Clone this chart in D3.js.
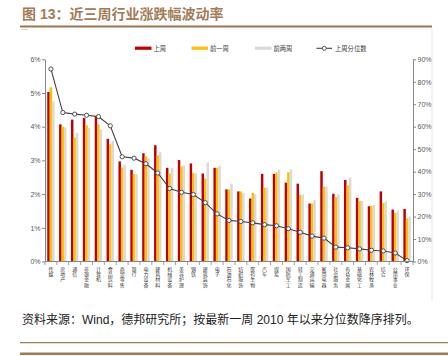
<!DOCTYPE html>
<html><head><meta charset="utf-8">
<script src="https://cdn.jsdelivr.net/npm/d3@7"></script>
<style>html,body{margin:0;padding:0;background:#fff;}svg{display:block;}</style>
</head><body>
<svg id="c" width="448" height="356"></svg>
<script>
const categories = ["传媒","房地产","通信","非银金融","计算机","食品饮料","商贸零售","银行","电力设备","建筑材料","机械设备","美容护理","钢铁","建筑装饰","电子","石油石化","纺织服饰","医药生物","汽车","煤炭","国防军工","轻工制造","交通运输","家用电器","社会服务","有色金属","基础化工","农林牧渔","综合","公用事业","环保"];
const lastWeek = [5.03,4.07,4.21,4.26,4.30,3.64,2.97,2.72,3.21,3.45,2.78,3.01,2.91,2.61,2.78,2.14,2.08,1.87,2.60,2.60,2.34,2.31,1.72,2.68,2.01,2.42,1.89,1.64,2.08,1.54,1.56];
const prevWeek = [5.17,4.00,3.68,4.04,4.07,3.48,2.79,2.59,3.12,3.15,2.61,2.82,2.62,2.46,2.78,2.14,2.08,2.04,2.19,2.64,2.65,1.97,1.72,2.22,1.91,2.26,1.80,1.64,1.73,1.44,1.28];
const twoWeeksAgo = [4.75,3.98,3.82,3.96,3.92,3.59,2.87,2.59,3.07,3.24,2.78,2.85,2.62,2.94,2.84,2.31,2.04,2.00,2.20,2.72,2.73,1.99,1.82,2.22,1.99,2.49,1.80,1.68,1.78,1.51,1.33];
const percentile = [85.7,66.3,65.6,65.1,64.5,60.4,46.6,46.0,43.5,39.4,32.5,30.8,29.8,26.2,21.2,18.3,17.8,17.2,16.4,15.9,14.6,13.0,11.3,10.4,6.4,6.1,5.6,5.0,4.7,3.8,0.4];
const seriesNames = ["上周","前一周","前两周","上周分位数"];
const leftTicks = [0,1,2,3,4,5,6];
const rightTicks = [0,10,20,30,40,50,60,70,80,90];
const titleText = "图 13：近三周行业涨跌幅波动率";
const sourceText = "资料来源：Wind，德邦研究所；按最新一周 2010 年以来分位数降序排列。";

const colors = ["#C00000","#FFC000","#D9D9D9"];
const lineColor = "#404040";
const axisColor = "#868686";
const textColor = "#595959";
const brown = "#A27B57";

const svg = d3.select("#c");
const X0 = 45, X1 = 413, Y0 = 261.5, YT = 59.3;

const x = d3.scaleBand().domain(categories).range([X0, X1]).paddingInner(0).paddingOuter(0);
const inner = d3.scaleBand().domain([0,1,2]).range([0, 7.4]);
const yL = d3.scaleLinear().domain([0,6]).range([Y0, YT]);
const yR = d3.scaleLinear().domain([0,90]).range([Y0, YT]);

// title
svg.append("text").attr("x",22).attr("y",19).text(titleText)
  .attr("font-family","'Liberation Sans','Noto Sans CJK SC',sans-serif")
  .attr("font-size",14).attr("font-weight","bold").attr("fill",brown);
svg.append("line").attr("x1",20).attr("x2",432).attr("y1",26.5).attr("y2",26.5)
  .attr("stroke","#9E7450").attr("stroke-width",2);
svg.append("line").attr("x1",21).attr("x2",28).attr("y1",29.5).attr("y2",29.5)
  .attr("stroke","#d0d0d0").attr("stroke-width",1);
// frame line on right
svg.append("line").attr("x1",432).attr("x2",432).attr("y1",29).attr("y2",300)
  .attr("stroke","#e6e6e6").attr("stroke-width",1);

// bars
const series = [lastWeek, prevWeek, twoWeeksAgo];
const off = (x.bandwidth() - 7.4)/2;
series.forEach((arr, si) => {
  svg.append("g").selectAll("rect").data(arr).join("rect")
    .attr("x",(d,i)=> x(categories[i]) + off + inner(si))
    .attr("width", inner.bandwidth())
    .attr("y", d=> yL(d))
    .attr("height", d=> Y0 - yL(d))
    .attr("fill", colors[si]);
});

// line
const line = d3.line().x((d,i)=> x(categories[i]) + x.bandwidth()/2).y(d=> yR(d));
svg.append("path").datum(percentile).attr("d", line)
  .attr("fill","none").attr("stroke",lineColor).attr("stroke-width",1.1);
svg.append("g").selectAll("circle").data(percentile).join("circle")
  .attr("cx",(d,i)=> x(categories[i]) + x.bandwidth()/2)
  .attr("cy", d=> yR(d)).attr("r",2.1)
  .attr("fill","#fff").attr("stroke",lineColor).attr("stroke-width",0.9);

// axes
function styleAxis(g){
  g.selectAll(".domain").attr("stroke",axisColor).attr("stroke-width",1);
  g.selectAll(".tick line").attr("stroke",axisColor);
  g.selectAll(".tick text").attr("fill",textColor)
    .attr("font-family","'Liberation Sans',Arial,sans-serif").attr("font-size",7);
}
const gL = svg.append("g").attr("transform",`translate(${X0},0)`)
  .call(d3.axisLeft(yL).tickValues(leftTicks).tickFormat(d=>d+"%").tickSize(3).tickSizeOuter(0).tickPadding(1.5));
styleAxis(gL);
const gR = svg.append("g").attr("transform",`translate(${X1},0)`)
  .call(d3.axisRight(yR).tickValues(rightTicks).tickFormat(d=>d+"%").tickSize(3).tickSizeOuter(0).tickPadding(1.5));
styleAxis(gR);

// x axis with ticks at band boundaries
const gX = svg.append("g");
gX.append("line").attr("x1",X0).attr("x2",X1).attr("y1",Y0).attr("y2",Y0)
  .attr("stroke",axisColor).attr("stroke-width",1);
const bounds = categories.map(c=>x(c)).concat([X1]);
gX.selectAll("line.t").data(bounds).join("line").attr("class","t")
  .attr("x1",d=>d).attr("x2",d=>d).attr("y1",Y0).attr("y2",Y0+3.5)
  .attr("stroke",axisColor).attr("stroke-width",0.8);
// vertical labels (one text per category, vertical writing mode)
gX.selectAll("text.lab").data(categories).join("text").attr("class","lab")
  .attr("x", c=> x(c)+x.bandwidth()/2)
  .attr("y", 266.5)
  .text(c=>c)
  .style("writing-mode","vertical-rl")
  .style("letter-spacing","0.25px")
  .attr("font-family","'Noto Sans CJK SC',sans-serif")
  .attr("font-size",5).attr("fill","#404040");

// legend
const lg = svg.append("g").attr("font-family","'Noto Sans CJK SC',sans-serif").attr("font-size",6.3).attr("fill","#404040");
const legX = [135, 191.5, 255];
[0,1,2].forEach(i=>{
  lg.append("rect").attr("x",legX[i]).attr("y",46.6).attr("width",16.5).attr("height",3.2).attr("fill",colors[i]);
  lg.append("text").attr("x",legX[i]+18.5).attr("y",50.6).text(seriesNames[i]);
});
lg.append("line").attr("x1",316.5).attr("x2",332).attr("y1",48.3).attr("y2",48.3).attr("stroke",lineColor).attr("stroke-width",1.1);
lg.append("circle").attr("cx",324.3).attr("cy",48.3).attr("r",2).attr("fill","#fff").attr("stroke",lineColor).attr("stroke-width",0.9);
lg.append("text").attr("x",335).attr("y",50.6).text(seriesNames[3]);

// footer
svg.append("text").attr("x",22).attr("y",323.5).text(sourceText)
  .attr("font-family","'Liberation Sans','Noto Sans CJK SC',sans-serif")
  .attr("font-size",12).attr("fill","#222");
svg.append("line").attr("x1",20).attr("x2",448).attr("y1",342.7).attr("y2",342.7)
  .attr("stroke","#A07A55").attr("stroke-width",1.2);
svg.append("line").attr("x1",20).attr("x2",448).attr("y1",353.8).attr("y2",353.8)
  .attr("stroke","#A07A55").attr("stroke-width",2.6);
</script>
</body></html>
